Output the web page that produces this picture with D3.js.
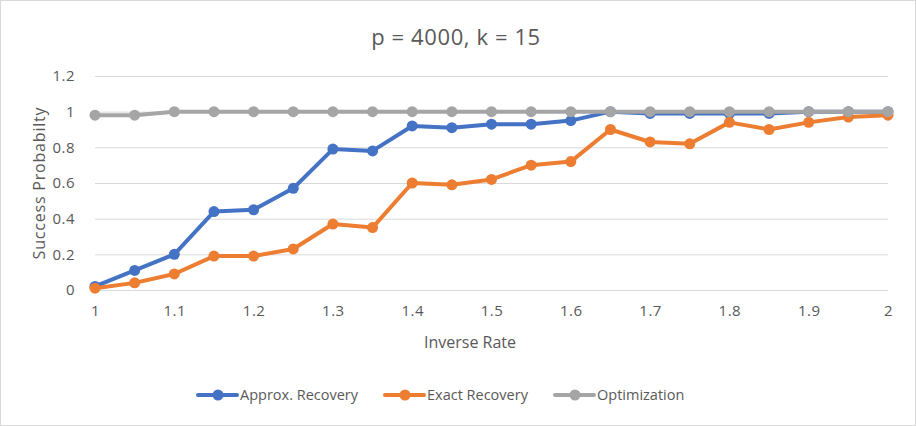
<!DOCTYPE html>
<html>
<head>
<meta charset="utf-8">
<script src="https://cdn.jsdelivr.net/npm/d3@7"></script>
<style>
  body { margin: 0; background: #fff; }
  text { font-family: "Open Sans", sans-serif; fill: #595959; }
</style>
</head>
<body>
<div id="chart"></div>
<script>
var svgWidth = 916;
var svgHeight = 426;
var fontFamily = "'Open Sans', sans-serif";

// data
var rates = [1, 1.05, 1.1, 1.15, 1.2, 1.25, 1.3, 1.35, 1.4, 1.45, 1.5, 1.55, 1.6, 1.65, 1.7, 1.75, 1.8, 1.85, 1.9, 1.95, 2];
var approxRecovery = [0.02, 0.11, 0.2, 0.44, 0.45, 0.57, 0.79, 0.78, 0.92, 0.91, 0.93, 0.93, 0.95, 1, 0.99, 0.99, 0.99, 0.99, 1, 1, 1];
var exactRecovery = [0.01, 0.04, 0.09, 0.19, 0.19, 0.23, 0.37, 0.35, 0.6, 0.59, 0.62, 0.7, 0.72, 0.9, 0.83, 0.82, 0.94, 0.9, 0.94, 0.97, 0.98];
var optimization = [0.98, 0.98, 1, 1, 1, 1, 1, 1, 1, 1, 1, 1, 1, 1, 1, 1, 1, 1, 1, 1, 1];
var xTicks = [1, 1.1, 1.2, 1.3, 1.4, 1.5, 1.6, 1.7, 1.8, 1.9, 2];
var yTicks = [0, 0.2, 0.4, 0.6, 0.8, 1, 1.2];
var seriesNames = ["Approx. Recovery", "Exact Recovery", "Optimization"];
var seriesColors = ["#4472c4", "#ed7d31", "#a5a5a5"];

var series = [approxRecovery, exactRecovery, optimization];

var margin = { top: 76, right: 28, bottom: 136, left: 95 };
var width = svgWidth - margin.left - margin.right;
var height = svgHeight - margin.top - margin.bottom;

var svg = d3.select("#chart")
  .append("svg")
  .attr("width", svgWidth)
  .attr("height", svgHeight);

// outer border
svg.append("rect")
  .attr("x", 0.5).attr("y", 0.5)
  .attr("width", svgWidth - 1).attr("height", svgHeight - 1)
  .attr("fill", "#fff")
  .attr("stroke", "#d9d9d9");

var chartGroup = svg.append("g")
  .attr("transform", `translate(${margin.left}, ${margin.top})`);

var xLinear = d3.scaleLinear().domain([1, 2]).range([0, width]);
var yLinear = d3.scaleLinear().domain([0, 1.2]).range([height, 0]);

// gridlines
chartGroup.append("g")
  .call(d3.axisLeft(yLinear).tickValues(yTicks).tickSize(-width).tickFormat(""))
  .call(g => g.select(".domain").remove())
  .call(g => g.selectAll("line").attr("stroke", "#d9d9d9").attr("stroke-width", 1));

// y axis labels
var yAxis = chartGroup.append("g")
  .attr("transform", "translate(-17, 0)")
  .call(d3.axisLeft(yLinear).tickValues(yTicks).tickSize(0).tickFormat(d3.format("")));
yAxis.select(".domain").remove();
yAxis.selectAll("text")
  .attr("font-size", "15px")
  .attr("letter-spacing", "0.5px")
  .attr("font-family", fontFamily)
  .attr("fill", "#595959");

// x axis labels
var xAxis = chartGroup.append("g")
  .attr("transform", `translate(0, ${height + 12})`)
  .call(d3.axisBottom(xLinear).tickValues(xTicks).tickSize(0).tickFormat(d3.format("")));
xAxis.select(".domain").remove();
xAxis.selectAll("text")
  .attr("font-size", "15px")
  .attr("letter-spacing", "0.5px")
  .attr("font-family", fontFamily)
  .attr("fill", "#595959");

// lines and markers
var line = d3.line()
  .x((d, i) => xLinear(rates[i]))
  .y(d => yLinear(d));

series.forEach(function(values, s) {
  chartGroup.append("path")
    .datum(values)
    .attr("d", line)
    .attr("fill", "none")
    .attr("stroke", seriesColors[s])
    .attr("stroke-width", 4)
    .attr("stroke-linejoin", "round")
    .attr("stroke-linecap", "round");

  chartGroup.selectAll("circle.s" + s)
    .data(values)
    .enter()
    .append("circle")
    .attr("class", "s" + s)
    .attr("cx", (d, i) => xLinear(rates[i]))
    .attr("cy", d => yLinear(d))
    .attr("r", 5.5)
    .attr("fill", seriesColors[s]);
});

// title
svg.append("text")
  .attr("x", 456)
  .attr("y", 45)
  .attr("text-anchor", "middle")
  .attr("font-size", "22px")
  .attr("letter-spacing", "0.6px")
  .text("p = 4000, k = 15");

// axis titles
svg.append("text")
  .attr("transform", "rotate(-90)")
  .attr("x", -183)
  .attr("y", 45)
  .attr("text-anchor", "middle")
  .attr("font-size", "16px")
  .attr("letter-spacing", "0.8px")
  .text("Success Probabilty");

svg.append("text")
  .attr("x", 470)
  .attr("y", 348)
  .attr("text-anchor", "middle")
  .attr("font-size", "16px")
  .text("Inverse Rate");

// legend
var legendX = [198, 385, 555];
var legend = svg.selectAll("g.legend")
  .data(seriesNames)
  .enter()
  .append("g")
  .attr("class", "legend")
  .attr("transform", (d, i) => `translate(${legendX[i]}, 395)`);

legend.append("line")
  .attr("x1", 0).attr("x2", 39)
  .attr("stroke", (d, i) => seriesColors[i])
  .attr("stroke-width", 4)
  .attr("stroke-linecap", "round");

legend.append("circle")
  .attr("cx", 20)
  .attr("r", 5.5)
  .attr("fill", (d, i) => seriesColors[i]);

legend.append("text")
  .attr("x", 42)
  .attr("dy", "0.35em")
  .attr("font-size", "14.5px")
  .text(d => d);
</script>
</body>
</html>
